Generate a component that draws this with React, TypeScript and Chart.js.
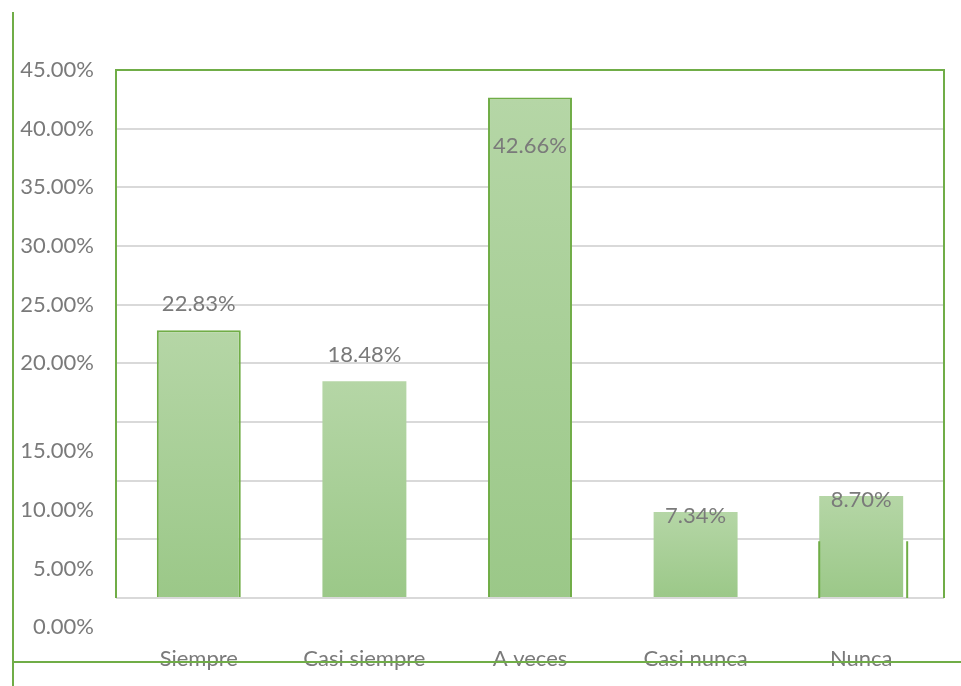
import React, { useEffect, useRef } from "react";
import { Chart, registerables } from "chart.js";

Chart.register(...registerables);

const categories = ["Siempre", "Casi siempre", "A veces", "Casi nunca", "Nunca"];
const values = [22.83, 18.48, 42.66, 7.34, 8.7];
const yTickValues = [0, 5, 10, 15, 20, 25, 30, 35, 40, 45];
const outlinedBars = [true, false, true, false, false];
// where each value label sits relative to its bar top
const labelPlacement = ["above", "above", "inside", "top", "top"];

const GREEN = "#70ad47";
const TEXT = "#7a7a7a";
const FONT = "Lato, 'Open Sans', sans-serif";
const FONT_SIZE = 22;

const fmt = (v: number) => v.toFixed(2) + "%";

const decorPlugin = {
  id: "decor",
  afterDatasetsDraw(chart: any) {
    const { ctx, chartArea, scales } = chart;
    const y = scales.y;
    const { left, right, top, bottom } = chartArea;
    ctx.save();
    ctx.strokeStyle = GREEN;
    ctx.lineWidth = 2;
    ctx.beginPath();
    ctx.moveTo(left, bottom);
    ctx.lineTo(left, top);
    ctx.lineTo(right, top);
    ctx.lineTo(right, bottom);
    ctx.stroke();

    ctx.beginPath();
    ctx.moveTo(13, 12);
    ctx.lineTo(13, chart.height);
    ctx.moveTo(13, 662);
    ctx.lineTo(chart.width, 662);
    ctx.stroke();

    const meta = chart.getDatasetMeta(0);
    const last = meta.data[meta.data.length - 1];
    if (last) {
      const w = last.width;
      const y5 = y.getPixelForValue(5) + 2;
      ctx.beginPath();
      ctx.moveTo(last.x - w / 2, y5);
      ctx.lineTo(last.x - w / 2, bottom);
      ctx.moveTo(last.x + w / 2 + 4, y5);
      ctx.lineTo(last.x + w / 2 + 4, bottom);
      ctx.stroke();
    }

    ctx.fillStyle = TEXT;
    ctx.font = `${FONT_SIZE}px ${FONT}`;
    ctx.textAlign = "right";
    ctx.textBaseline = "middle";
    const half = (y.getPixelForValue(0) - y.getPixelForValue(5)) / 2;
    yTickValues.forEach((v) => {
      const py = y.getPixelForValue(v) + (v <= 15 ? half : 0);
      ctx.fillText(fmt(v), 94, py);
    });

    ctx.textAlign = "center";
    meta.data.forEach((bar: any, i: number) => {
      const place = labelPlacement[i];
      let py = bar.y;
      if (place === "above") py = bar.y - 26;
      else if (place === "inside") py = bar.y + 48;
      else py = bar.y + 4;
      ctx.fillText(fmt(values[i]), bar.x, py);
    });
    ctx.restore();
  },
};

export default function App() {
  const ref = useRef<HTMLCanvasElement | null>(null);
  useEffect(() => {
    if (!ref.current) return;
    const chart = new Chart(ref.current, {
      type: "bar",
      data: {
        labels: categories,
        datasets: [
          {
            data: values,
            backgroundColor: (c: any) => {
              const ch = c.chart;
              const ys = ch.scales && ch.scales.y;
              if (!ys || c.dataIndex === undefined) return "#a9d096";
              const v = values[c.dataIndex];
              const t = ys.getPixelForValue(v);
              const b = ys.getPixelForValue(0);
              if (!isFinite(t) || !isFinite(b) || t === b) return "#a9d096";
              const g = ch.ctx.createLinearGradient(0, t, 0, b);
              g.addColorStop(0, "#b5d6a6");
              g.addColorStop(1, "#9bc888");
              return g;
            },
            borderColor: GREEN,
            borderWidth: (c: any) => (outlinedBars[c.dataIndex] ? 2 : 0),
            borderSkipped: "bottom",
            categoryPercentage: 0.507,
            barPercentage: 1,
          },
        ],
      },
      options: {
        responsive: false,
        animation: false,
        devicePixelRatio: 1,
        layout: { padding: { left: 116, top: 70, right: 17, bottom: 0 } },
        plugins: { legend: { display: false }, tooltip: { enabled: false } },
        scales: {
          x: {
            grid: { display: false, drawTicks: false },
            border: { display: false },
            ticks: {
              color: TEXT,
              font: { family: FONT, size: FONT_SIZE },
              padding: 48,
            },
            afterFit: (scale: any) => {
              scale.height = 88;
            },
          },
          y: {
            min: 0,
            max: 45,
            grid: { color: "#d9d9d9", lineWidth: 2, drawTicks: false },
            border: { display: false },
            ticks: { display: false, stepSize: 5 },
          },
        },
      },
      plugins: [decorPlugin],
    });
    return () => chart.destroy();
  }, []);
  return (
    <div style={{ position: "absolute", left: 0, top: 0, width: 961, height: 686, background: "#fff" }}>
      <canvas ref={ref} width={961} height={686} />
    </div>
  );
}
